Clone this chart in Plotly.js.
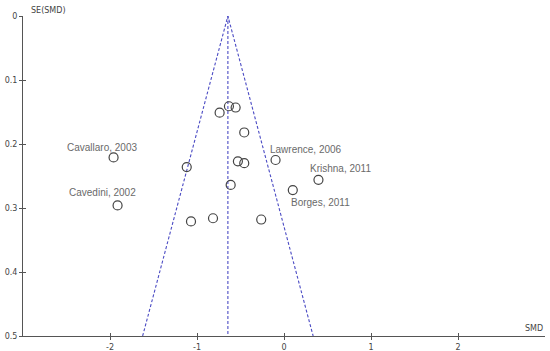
<!DOCTYPE html>
<html><head><meta charset="utf-8">
<script src="https://cdn.plot.ly/plotly-3.0.1.min.js"></script>
<style>html,body{margin:0;padding:0;background:#fff}#chart{width:550px;height:351px}</style>
</head><body><div id="chart"></div>
<script>
// Study estimates (SMD) and their standard errors
const smd = [-1.959, -1.913, -0.633, -0.556, -0.740, -0.457, -0.530, -0.457, -1.118, -0.097, -0.613, -1.069, -0.816, -0.262, 0.396, 0.101];
const se  = [0.221, 0.296, 0.141, 0.143, 0.151, 0.182, 0.227, 0.230, 0.236, 0.225, 0.264, 0.321, 0.316, 0.318, 0.256, 0.272];
const studyLabels = ["Cavallaro, 2003", "Cavedini, 2002", "", "", "", "", "", "", "", "Lawrence, 2006", "", "", "", "", "Krishna, 2011", "Borges, 2011"];
const pooledSMD = -0.645;
const seRange = [0, 0.5];
const xTicks = [-2, -1, 0, 1, 2];
const xTickText = ["-2", "-1", "0", "1", "2"];
const yTicks = [0, 0.1, 0.2, 0.3, 0.4, 0.5];
const yTickText = ["0", "0.1", "0.2", "0.3", "0.4", "0.5"];

const z = 1.96;
const funnelColor = '#4b4bc4';
const traces = [
  {x: [pooledSMD - z*seRange[1], pooledSMD, pooledSMD + z*seRange[1]], y: [seRange[1], seRange[0], seRange[1]],
   mode: 'lines', line: {color: funnelColor, width: 1.1, dash: '3px,2px'}, hoverinfo: 'skip'},
  {x: [pooledSMD, pooledSMD], y: seRange, mode: 'lines', line: {color: funnelColor, width: 1.1, dash: '3px,2px'}, hoverinfo: 'skip'},
  {x: smd, y: se, mode: 'markers', marker: {symbol: 'circle-open', size: 9, color: '#444', line: {width: 1.2, color: '#444'}}},
  {x: [], y: [], xaxis: 'x2', yaxis: 'y2', mode: 'markers', hoverinfo: 'skip'}
];

const labelShift = {
  "Cavallaro, 2003": [-12, 10],
  "Cavedini, 2002": [-15, 13],
  "Lawrence, 2006": [30, 11],
  "Krishna, 2011": [22, 11],
  "Borges, 2011": [28, -12]
};
const annotations = [];
studyLabels.forEach((t, i) => {
  if (!t) return;
  annotations.push({x: smd[i], y: se[i], xref: 'x', yref: 'y', text: t, showarrow: false,
    xshift: labelShift[t][0], yshift: labelShift[t][1], font: {family: 'Liberation Sans, Arial', size: 10, color: '#6a6a6a'}});
});
annotations.push({xref: 'paper', yref: 'paper', x: 0, y: 1, xanchor: 'left', yanchor: 'middle', xshift: 6, yshift: 6,
  text: 'SE(SMD)', showarrow: false, font: {family: 'DejaVu Sans', size: 8, color: '#444'}});
annotations.push({xref: 'paper', yref: 'paper', x: 1, y: 0, xanchor: 'right', yanchor: 'bottom', yshift: 1,
  text: 'SMD', showarrow: false, font: {family: 'DejaVu Sans', size: 8, color: '#444'}});

const tickFont = {family: 'DejaVu Sans', size: 8, color: '#444'};
const layout = {
  width: 550, height: 351,
  margin: {l: 23, r: 5, t: 16, b: 15},
  paper_bgcolor: '#fff', plot_bgcolor: '#fff',
  showlegend: false,
  xaxis: {range: [-3, 3], tickvals: xTicks, ticktext: xTickText, showgrid: false, zeroline: false, showline: true, linecolor: '#555', linewidth: 1,
    ticks: 'outside', ticklen: 3, tickcolor: '#555', tickfont: tickFont},
  yaxis: {range: [0.5, 0], tickvals: yTicks, ticktext: yTickText, showgrid: false, zeroline: false, showline: true, linecolor: '#555', linewidth: 1,
    ticks: 'outside', ticklen: 3, tickcolor: '#555', tickfont: tickFont},
  xaxis2: {range: [-3, 3], tickvals: xTicks, overlaying: 'x', anchor: 'y2', side: 'bottom', showgrid: false, zeroline: false, showline: false,
    ticks: 'inside', ticklen: 3, tickcolor: '#555', showticklabels: false},
  yaxis2: {range: [0.5, 0], tickvals: yTicks, overlaying: 'y', anchor: 'x2', side: 'left', showgrid: false, zeroline: false, showline: false,
    ticks: 'inside', ticklen: 3, tickcolor: '#555', showticklabels: false},
  annotations: annotations
};
Plotly.newPlot('chart', traces, layout, {displayModeBar: false, staticPlot: true});
</script></body></html>
